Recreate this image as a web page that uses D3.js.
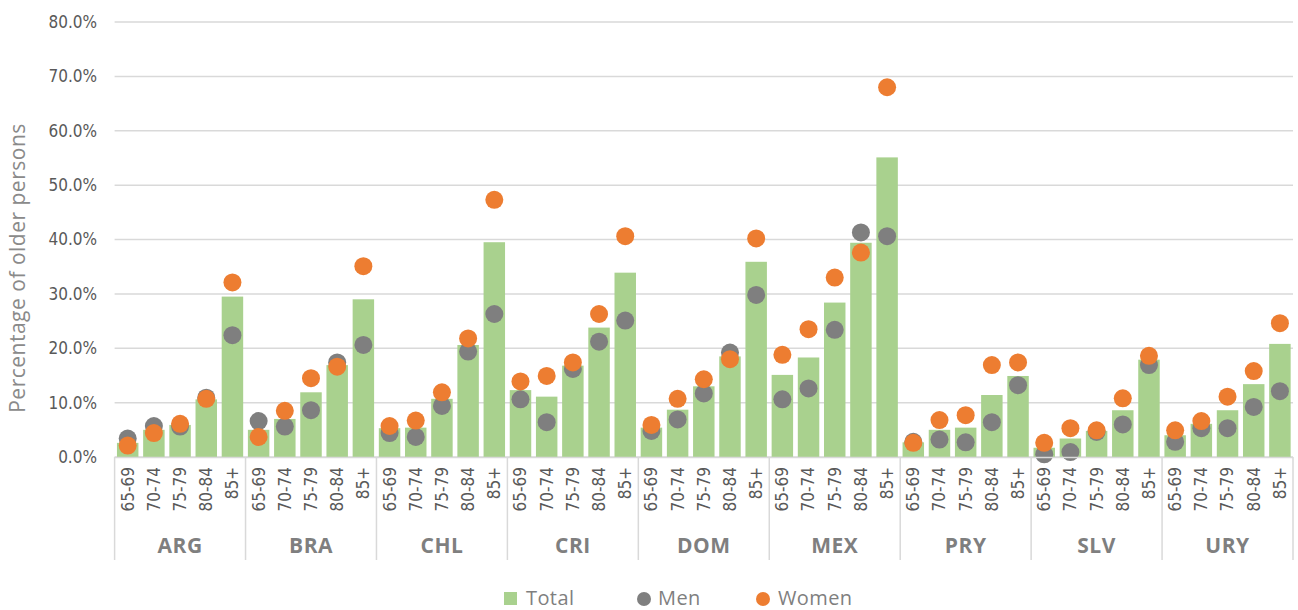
<!DOCTYPE html>
<html>
<head>
<meta charset="utf-8">
<script src="https://cdn.jsdelivr.net/npm/d3@7"></script>
<style>
  body { margin: 0; background: #fff; }
  .narrow { font-family: "Liberation Sans Narrow", "DejaVu Sans Condensed", sans-serif; font-stretch: condensed; }
</style>
</head>
<body>
<svg></svg>
<script>
var width = 1298;
var height = 610;

var countries = ["ARG", "BRA", "CHL", "CRI", "DOM", "MEX", "PRY", "SLV", "URY"];
var ageGroups = ["65-69", "70-74", "75-79", "80-84", "85+"];
var yTicks = [0, 0.1, 0.2, 0.3, 0.4, 0.5, 0.6, 0.7, 0.8];

// one row per country, in age group order (percent)
var totalValues = [
	[2.6, 5.0, 5.9, 10.6, 29.5],
	[5.0, 7.0, 11.9, 16.9, 29.0],
	[5.3, 5.4, 10.7, 20.6, 39.5],
	[12.3, 11.1, 16.8, 23.8, 33.9],
	[5.4, 8.7, 13.0, 18.5, 35.9],
	[15.1, 18.3, 28.4, 39.4, 55.1],
	[2.7, 5.0, 5.4, 11.4, 14.9],
	[1.7, 3.4, 4.8, 8.6, 17.9],
	[4.0, 6.1, 8.6, 13.4, 20.8]
];
var menValues = [
	[3.4, 5.7, 5.6, 10.9, 22.4],
	[6.6, 5.6, 8.6, 17.4, 20.6],
	[4.4, 3.7, 9.4, 19.4, 26.3],
	[10.6, 6.4, 16.2, 21.2, 25.1],
	[4.8, 6.9, 11.7, 19.2, 29.8],
	[10.6, 12.6, 23.4, 41.3, 40.6],
	[2.8, 3.2, 2.7, 6.4, 13.2],
	[0.5, 0.9, 4.6, 6.0, 16.9],
	[2.8, 5.3, 5.3, 9.2, 12.1]
];
var womenValues = [
	[2.1, 4.4, 6.1, 10.7, 32.1],
	[3.7, 8.5, 14.5, 16.6, 35.1],
	[5.7, 6.7, 11.9, 21.8, 47.3],
	[13.9, 14.9, 17.4, 26.3, 40.6],
	[5.9, 10.7, 14.3, 18.0, 40.2],
	[18.8, 23.5, 33.0, 37.6, 68.0],
	[2.6, 6.8, 7.7, 16.9, 17.4],
	[2.6, 5.3, 4.9, 10.8, 18.6],
	[4.9, 6.6, 11.1, 15.8, 24.6]
];

var plotLeft = 114.6;
var plotRight = 1293;
var plotTop = 22;
var plotBottom = 457;

var rows = [];
countries.forEach((c, i) => {
	ageGroups.forEach((a, j) => {
		rows.push({
			key: c + "|" + a,
			country: c,
			age: a,
			total: totalValues[i][j] / 100,
			men: menValues[i][j] / 100,
			women: womenValues[i][j] / 100
		});
	});
});

var svg = d3.select('svg')
	.attr("width", width)
	.attr("height", height);

var x = d3.scaleBand()
	.domain(rows.map(d => d.key))
	.range([plotLeft, plotRight])
	.paddingInner(0.18)
	.paddingOuter(0.09);

var xGroup = d3.scaleBand()
	.domain(countries)
	.range([plotLeft, plotRight]);

var y = d3.scaleLinear()
	.domain([0, 0.8])
	.range([plotBottom, plotTop]);

// gridlines and y labels
svg.append('g')
	.selectAll('line')
	.data(yTicks)
	.enter()
	.append('line')
		.attr('x1', plotLeft)
		.attr('x2', plotRight)
		.attr('y1', d => y(d))
		.attr('y2', d => y(d))
		.attr('stroke', '#d9d9d9')
		.attr('stroke-width', 1.5);

svg.append('g')
	.selectAll('text')
	.data(yTicks)
	.enter()
	.append('text')
		.classed('narrow', true)
		.attr('x', 97)
		.attr('y', d => y(d))
		.attr('dy', '0.35em')
		.attr('text-anchor', 'end')
		.attr('font-size', 17)
		.attr('fill', '#595959')
		.text(d => d3.format('.1%')(d));

svg.append('text')
	.attr('transform', 'translate(25,268) rotate(-90)')
	.attr('text-anchor', 'middle')
	.attr('font-family', '"Open Sans", sans-serif')
	.attr('font-size', 21)
	.attr('letter-spacing', 0.5)
	.attr('fill', '#8a8a8a')
	.text('Percentage of older persons');

// bars
svg.append('g')
	.selectAll('rect')
	.data(rows)
	.enter()
	.append('rect')
		.attr('x', d => x(d.key))
		.attr('width', x.bandwidth())
		.attr('y', d => y(d.total))
		.attr('height', d => y(0) - y(d.total))
		.attr('fill', '#a9d18e');

// men then women dots
svg.append('g')
	.selectAll('circle')
	.data(rows)
	.enter()
	.append('circle')
		.attr('cx', d => x(d.key) + x.bandwidth() / 2)
		.attr('cy', d => y(d.men))
		.attr('r', 9)
		.attr('fill', '#7f7f7f');

svg.append('g')
	.selectAll('circle')
	.data(rows)
	.enter()
	.append('circle')
		.attr('cx', d => x(d.key) + x.bandwidth() / 2)
		.attr('cy', d => y(d.women))
		.attr('r', 9)
		.attr('fill', '#ed7d31');

// category axis
svg.append('line')
	.attr('x1', plotLeft)
	.attr('x2', plotRight)
	.attr('y1', plotBottom + 0.5)
	.attr('y2', plotBottom + 0.5)
	.attr('stroke', '#d9d9d9')
	.attr('stroke-width', 1.5);

svg.append('g')
	.selectAll('line')
	.data(countries.concat(['end']))
	.enter()
	.append('line')
		.attr('x1', d => d === 'end' ? plotRight : xGroup(d))
		.attr('x2', d => d === 'end' ? plotRight : xGroup(d))
		.attr('y1', plotBottom)
		.attr('y2', 560)
		.attr('stroke', '#d9d9d9')
		.attr('stroke-width', 1.5);

svg.append('g')
	.selectAll('text')
	.data(rows)
	.enter()
	.append('text')
		.classed('narrow', true)
		.attr('transform', d => 'translate(' + (x(d.key) + x.bandwidth() / 2) + ',467) rotate(-90)')
		.attr('text-anchor', 'end')
		.attr('dy', '0.35em')
		.attr('font-size', 17)
		.attr('fill', '#595959')
		.text(d => d.age);

svg.append('g')
	.selectAll('text')
	.data(countries)
	.enter()
	.append('text')
		.attr('x', d => xGroup(d) + xGroup.bandwidth() / 2)
		.attr('y', 553)
		.attr('text-anchor', 'middle')
		.attr('font-family', '"Open Sans", sans-serif')
		.attr('font-weight', 'bold')
		.attr('font-size', 21)
		.attr('letter-spacing', 0.5)
		.attr('fill', '#7f7f7f')
		.text(d => d);

// legend
var legend = svg.append('g');
legend.append('rect')
	.attr('x', 504)
	.attr('y', 592)
	.attr('width', 13)
	.attr('height', 13)
	.attr('fill', '#a9d18e');
legend.append('circle')
	.attr('cx', 644)
	.attr('cy', 599)
	.attr('r', 7)
	.attr('fill', '#7f7f7f');
legend.append('circle')
	.attr('cx', 763)
	.attr('cy', 599)
	.attr('r', 7)
	.attr('fill', '#ed7d31');

legend.selectAll('text')
	.data([{t: 'Total', x: 526}, {t: 'Men', x: 658}, {t: 'Women', x: 778}])
	.enter()
	.append('text')
		.attr('x', d => d.x)
		.attr('y', 605)
		.attr('font-family', '"Open Sans", sans-serif')
		.attr('font-size', 20)
		.attr('letter-spacing', 0.4)
		.attr('fill', '#7f7f7f')
		.text(d => d.t);
</script>
</body>
</html>
